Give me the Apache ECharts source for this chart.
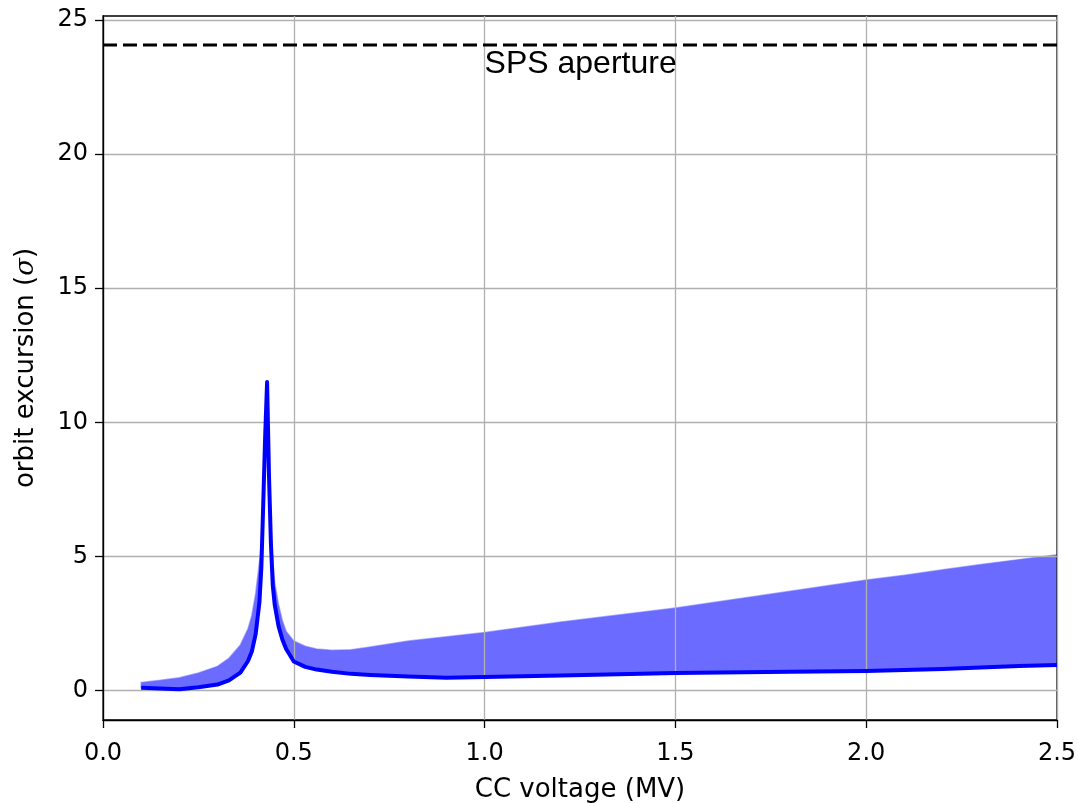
<!DOCTYPE html>
<html>
<head>
<meta charset="utf-8">
<title>orbit excursion vs CC voltage</title>
<script src="https://cdn.jsdelivr.net/npm/echarts@6/dist/echarts.min.js"></script>
<style>
  html, body { margin: 0; padding: 0; background: #fff; }
  #chart { width: 1078px; height: 803px; }
</style>
</head>
<body>
<div id="chart"></div>
<script>
// CC voltage (MV), shared by every curve
const voltage = [0.1, 0.15, 0.2, 0.25, 0.3, 0.33, 0.36, 0.38, 0.39, 0.4, 0.41, 0.415, 0.42, 0.425, 0.43,
  0.435, 0.44, 0.445, 0.45, 0.46, 0.47, 0.48, 0.5, 0.53, 0.56, 0.6, 0.65, 0.7, 0.8, 0.9, 1.0,
  1.2, 1.5, 1.8, 2.0, 2.1, 2.2, 2.3, 2.4, 2.5]
// dark blue curve (lower edge of the spread)
const excursionLow = [0.1, 0.07, 0.05, 0.12, 0.22, 0.38, 0.67, 1.1, 1.45, 2.1, 3.3, 4.6, 7.0, 9.5, 11.5,
  8.0, 5.5, 3.9, 3.2, 2.4, 1.9, 1.55, 1.08, 0.88, 0.78, 0.7, 0.62, 0.58, 0.52, 0.48, 0.5,
  0.56, 0.65, 0.7, 0.73, 0.76, 0.8, 0.86, 0.91, 0.95]
// upper edge of the light blue spread
const excursionHigh = [0.3, 0.38, 0.48, 0.65, 0.9, 1.2, 1.7, 2.3, 2.8, 3.6, 4.8, 5.5, 7.0, 9.6, 11.5,
  8.5, 6.0, 4.8, 4.0, 3.2, 2.6, 2.2, 1.85, 1.65, 1.55, 1.5, 1.52, 1.62, 1.85, 2.0, 2.16,
  2.55, 3.08, 3.7, 4.12, 4.3, 4.5, 4.7, 4.88, 5.06]
const apertureX = [0, 2.5]
const apertureY = [24.07, 24.07]
const yTicks = [0, 5, 10, 15, 20, 25]

const lowPts = voltage.map((v, i) => [v, excursionLow[i]])
const bandRows = voltage.map((v, i) => [v, excursionLow[i], excursionHigh[i]])
const aperturePts = apertureX.map((v, i) => [v, apertureY[i]])

const chart = echarts.init(document.getElementById('chart'), null, { renderer: 'canvas' })

const tickFont = { fontFamily: 'DejaVu Sans', fontSize: 24, color: '#000' }

// filled spread between the two edges, one polygon
function renderBand(params, api) {
  if (params.dataIndex !== 0) return
  const top = bandRows.map(r => api.coord([r[0], r[2]]))
  const bottom = bandRows.map(r => api.coord([r[0], r[1]])).reverse()
  return {
    type: 'polygon',
    shape: { points: top.concat(bottom) },
    style: { fill: '#6b6bff', stroke: 'rgba(107,107,255,0.55)', lineWidth: 1.5 },
    silent: true
  }
}

chart.setOption({
  animation: false,
  backgroundColor: '#fff',
  grid: {
    left: 103,
    right: 21,
    top: 16,
    bottom: 83,
    outerBoundsMode: 'none',
    containLabel: false,
    show: true,
    borderColor: '#000',
    borderWidth: 1.3,
    backgroundColor: 'transparent',
    zlevel: 1
  },
  xAxis: {
    type: 'value',
    min: 0,
    max: 2.5,
    interval: 0.5,
    zlevel: 1,
    name: 'CC voltage (MV)',
    nameLocation: 'middle',
    nameGap: 57,
    nameTextStyle: { fontFamily: 'DejaVu Sans', fontSize: 26, color: '#000' },
    axisLine: { show: true, onZero: false, lineStyle: { color: '#000', width: 1.3 } },
    axisTick: { show: true, length: 8, lineStyle: { color: '#000', width: 1.3 } },
    axisLabel: Object.assign({ margin: 22, formatter: v => v.toFixed(1) }, tickFont),
    splitLine: { show: true, lineStyle: { color: '#b0b0b0', width: 1.3 } }
  },
  yAxis: {
    type: 'value',
    min: -1.1,
    max: 25.15,
    zlevel: 1,
    name: 'orbit excursion ({it|σ})',
    nameLocation: 'middle',
    nameGap: 64,
    nameTextStyle: {
      fontFamily: 'DejaVu Sans', fontSize: 26, color: '#000',
      rich: { it: { fontFamily: 'DejaVu Serif', fontStyle: 'italic', fontSize: 26 } }
    },
    axisLine: { show: true, onZero: false, lineStyle: { color: '#000', width: 1.3 } },
    axisTick: { show: true, length: 8, customValues: yTicks, lineStyle: { color: '#000', width: 1.3 } },
    axisLabel: Object.assign({ margin: 15, customValues: yTicks }, tickFont),
    splitLine: { show: true, lineStyle: { color: '#b0b0b0', width: 1.3 } }
  },
  series: [
    {
      name: 'spread',
      type: 'custom',
      data: bandRows,
      encode: { x: 0, y: [1, 2] },
      renderItem: renderBand,
      clip: true,
      silent: true,
      zlevel: 0
    },
    {
      name: 'orbit',
      type: 'line',
      data: lowPts,
      showSymbol: false,
      zlevel: 2,
      lineStyle: { width: 4, color: '#0000ff', join: 'round' }
    },
    {
      name: 'SPS aperture',
      type: 'line',
      data: aperturePts,
      showSymbol: false,
      zlevel: 2,
      lineStyle: { width: 3, color: '#000', type: [14, 6] }
    },
    {
      name: 'aperture label',
      type: 'scatter',
      data: [[1.0, 24.07]],
      symbolSize: 0,
      zlevel: 2,
      itemStyle: { opacity: 1 },
      label: {
        show: true,
        formatter: 'SPS aperture',
        position: [0, 3],
        align: 'left',
        verticalAlign: 'top',
        fontFamily: 'Liberation Sans',
        fontSize: 32,
        color: '#000'
      }
    }
  ]
})
</script>
</body>
</html>
